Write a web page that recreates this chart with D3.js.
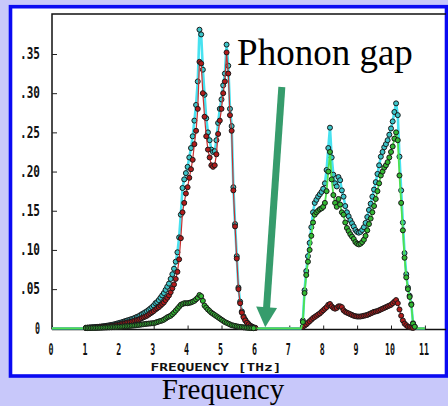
<!DOCTYPE html>
<html><head><meta charset="utf-8">
<script src="https://cdn.jsdelivr.net/npm/d3@7"></script>
<style>html,body{margin:0;padding:0;background:#c8c8fa;}svg{display:block}</style>
</head><body>
<svg id="c" width="448" height="406"></svg>
<script>
// Frequency grid step (THz) of the sampled DOS
const freqStep = 0.05;

// Total DOS (cyan)
const totalDOS = [
0,0,0,0,0,0,0,0,0,0,0,0,0,0,0,0,0,0,0,0,
.0008,.0009,.0011,.0012,.0014,.0015,.0017,.0018,.0021,.0023,.0026,.0029,.0032,.0035,.0039,.0043,.0047,.0052,.0058,.0064,
.007,.0076,.0083,.009,.0097,.0104,.0111,.0118,.0125,.0135,.0145,.0153,.0166,.018,.0192,.0205,.0218,.0235,.0252,.027,
.029,.032,.0335,.036,.039,.042,.045,.049,.053,.057,.063,.069,.076,.085,.097,.116,.145,.179,.190,.198,
.206,.218,.230,.245,.265,.285,.315,.381,.375,.330,.298,.268,.250,.240,.228,.225,.226,.240,.262,.280,
.292,.310,.325,.362,.335,.280,.258,.180,.133,.092,.052,.034,.0215,.0152,.011,.0078,.0055,.0033,.0022,.0011,
.0005,0,0,0,0,0,0,0,0,0,0,0,0,0,0,0,0,0,0,0,
0,0,0,0,0,0,0,0,.010,.0485,.073,.092,.109,.129,.148,.160,.164,.168,.171,.174,
.178,.185,.202,.230,.256,.218,.196,.185,.181,.193,.189,.176,.168,.156,.148,.143,.138,.134,.130,.1255,
.123,.122,.123,.1255,.129,.1345,.142,.151,.159,.168,.177,.1865,.197,.208,.219,.225,.231,.235,.240,.247,
.255,.264,.276,.287,.272,.219,.176,.135,.096,.069,.052,.0415,.031,.0065,.002,0,0,0,0,0,
0];

// Partial DOS, heavy atom (red)
const heavyDOS = [
0,0,0,0,0,0,0,0,0,0,0,0,0,0,0,0,0,0,0,0,
.0005,.0006,.0007,.0008,.0009,.001,.0011,.0012,.0014,.0015,.0017,.0019,.0021,.0023,.0026,.0029,.0032,.0036,.004,.0045,
.005,.0055,.006,.0065,.007,.0075,.008,.0085,.009,.0098,.0105,.011,.012,.013,.014,.015,.016,.0175,.019,.0205,
.022,.024,.0255,.027,.029,.031,.033,.036,.039,.042,.046,.051,.056,.063,.072,.088,.115,.148,.160,.172,
.180,.192,.203,.215,.235,.252,.280,.340,.338,.300,.270,.245,.228,.218,.208,.206,.208,.222,.248,.265,
.280,.300,.315,.352,.325,.272,.252,.176,.130,.089,.050,.032,.020,.014,.010,.007,.005,.003,.002,.001,
.0005,0,0,0,0,0,0,0,0,0,0,0,0,0,0,0,0,0,0,0,
0,0,0,0,0,0,0,0,.002,.0035,.005,.007,.009,.011,.013,.0145,.016,.0175,.019,.021,
.023,.025,.027,.030,.031,.028,.026,.025,.026,.028,.028,.027,.023,.021,.020,.019,.018,.017,.016,.0155,
.015,.015,.015,.0155,.016,.0165,.017,.018,.019,.020,.021,.0215,.022,.023,.024,.025,.026,.027,.028,.029,
.030,.032,.034,.036,.032,.024,.016,.010,.006,.004,.002,.0015,.001,.0005,0,0,0,0,0,0,
0];

// Partial DOS, light atom (green)
const lightDOS = [
0,0,0,0,0,0,0,0,0,0,0,0,0,0,0,0,0,0,0,0,
.0003,.0003,.0004,.0004,.0005,.0005,.0006,.0006,.0007,.0008,.0009,.001,.0011,.0012,.0013,.0014,.0015,.0016,.0018,.0019,
.002,.0021,.0023,.0025,.0027,.0029,.0031,.0033,.0035,.0037,.004,.0043,.0046,.0049,.0052,.0055,.0058,.006,.0062,.0064,
.0066,.0072,.0079,.0086,.0093,.010,.011,.0125,.014,.015,.016,.018,.020,.0225,.025,.0275,.030,.031,.032,.032,
.032,.0325,.033,.034,.035,.037,.039,.0425,.041,.035,.029,.0265,.024,.022,.020,.0185,.017,.0155,.014,.0125,
.011,.0095,.008,.007,.006,.005,.004,.0035,.003,.0025,.002,.0018,.0015,.0012,.001,.0008,.0005,.0003,.0002,.0001,
0,0,0,0,0,0,0,0,0,0,0,0,0,0,0,0,0,0,0,0,
0,0,0,0,0,0,0,0,.008,.045,.068,.085,.100,.118,.135,.145,.148,.150,.152,.153,
.155,.160,.175,.200,.225,.190,.170,.160,.155,.165,.158,.148,.145,.135,.128,.124,.120,.117,.114,.110,
.108,.107,.108,.110,.113,.118,.125,.133,.140,.148,.156,.165,.175,.185,.195,.200,.205,.208,.212,.218,
.225,.232,.242,.250,.240,.195,.160,.125,.090,.065,.050,.040,.030,.006,.002,0,0,0,0,0,
0];

const xTicks = [0,1,2,3,4,5,6,7,8,9,10,11];
const xTickLabels = ["0","1","2","3","4","5","6","7","8","9","10","11"];
const yTicks = [0,.05,.10,.15,.20,.25,.30,.35];
const yTickLabels = ["0",".05",".10",".15",".20",".25",".30",".35"];
const xAxisTitle = "FREQUENCY [THz]";
const annotation = "Phonon gap";
const caption = "Frequency";

const svg = d3.select("#c");
const x = d3.scaleLinear().domain([0, 11]).range([52, 424.9]);
const y = d3.scaleLinear().domain([0, 0.35]).range([328.3, 54]);

// frame
svg.append("rect").attr("x",10.5).attr("y",6.7).attr("width",436).attr("height",369.3)
  .attr("fill","#fff").attr("stroke","#0a0af2").attr("stroke-width",3.6);

// plot box lines
svg.append("path").attr("d","M52,329.5V14H446").attr("fill","none").attr("stroke","#111").attr("stroke-width",1.5);
svg.append("line").attr("x1",52).attr("x2",446).attr("y1",329.5).attr("y2",329.5).attr("stroke","#111").attr("stroke-width",1.5);

const monoFont = "'DejaVu Sans Mono', 'Liberation Mono', monospace";

const gy = svg.append("g").attr("transform","translate(52,0)")
  .call(d3.axisLeft(y).tickValues(yTicks).tickFormat((d,i)=>yTickLabels[i]).tickSize(-5).tickPadding(12));
gy.select(".domain").remove();
gy.selectAll(".tick line").attr("stroke","#222").attr("stroke-width",1);
gy.selectAll(".tick text").attr("fill","#111").style("font-family",monoFont).style("font-weight","bold").style("font-size","15px")
  .attr("textLength",(d,i)=>yTickLabels[i].length===1?5:20).attr("lengthAdjust","spacingAndGlyphs");

const gx = svg.append("g").attr("transform","translate(0,329.5)")
  .call(d3.axisBottom(x).tickValues(xTicks).tickFormat((d,i)=>xTickLabels[i]).tickSize(-4).tickPadding(15));
gx.select(".domain").remove();
gx.selectAll(".tick line").attr("stroke","#222").attr("stroke-width",1);
gx.selectAll(".tick text").attr("fill","#111").attr("dx",-1.5).style("font-family",monoFont).style("font-weight","bold").style("font-size","15px")
  .attr("textLength",(d,i)=>xTickLabels[i].length*5).attr("lengthAdjust","spacingAndGlyphs");

svg.append("text").attr("x",216).attr("y",371).attr("text-anchor","middle")
  .style("font-family",monoFont).style("font-weight","bold").style("font-size","10.5px").attr("fill","#111")
  .attr("textLength",131).attr("lengthAdjust","spacingAndGlyphs").text(xAxisTitle);

// series
const series = [
  {vals: totalDOS, line: "#48e2f0", lw: 2.6, fill: "#3cc4c8"},
  {vals: heavyDOS, line: "#c83030", lw: 1.2, fill: "#b01c1c"},
  {vals: lightDOS, line: "#4fe04f", lw: 1.8, fill: "#33b833"}
];
const line = d3.line().x((d,i)=>x(i*freqStep)).y(d=>y(d));
series.forEach(s => {
  const g = svg.append("g");
  g.append("path").attr("d", line(s.vals)).attr("fill","none").attr("stroke",s.line).attr("stroke-width",s.lw).attr("stroke-linejoin","round");
  g.selectAll("circle").data(s.vals.map((v,i)=>({v,f:i*freqStep})).filter(d=>d.v>0)).join("circle")
    .attr("cx",d=>x(d.f)).attr("cy",d=>y(d.v)).attr("r",2.5)
    .attr("fill",s.fill).attr("stroke","#1a1a1a").attr("stroke-width",1);
});

// annotation
svg.append("text").attr("x",x(5.46)).attr("y",y(0.336)).style("font-family","'Liberation Serif', 'Times New Roman', serif")
  .style("font-size","37px").attr("fill","#000").text(annotation);

const ax0 = x(6.78), ay0 = y(0.308), ax1 = x(6.29), ay1 = y(0) - 1;
const dx = ax1-ax0, dy = ay1-ay0, L = Math.hypot(dx,dy), ux = dx/L, uy = dy/L;
const headL = 20, headW = 10.5;
const bx = ax1 - ux*headL, by = ay1 - uy*headL;
const arrowCol = "#369c6c";
svg.append("line").attr("x1",ax0).attr("y1",ay0).attr("x2",bx+ux*2).attr("y2",by+uy*2).attr("stroke",arrowCol).attr("stroke-width",7);
svg.append("path").attr("d",`M${ax1},${ay1}L${bx - uy*headW},${by + ux*headW}L${bx + uy*headW},${by - ux*headW}Z`).attr("fill",arrowCol);

// caption below frame
svg.append("text").attr("x",223).attr("y",399).attr("text-anchor","middle")
  .style("font-family","'Liberation Serif', 'Times New Roman', serif").style("font-size","29px").attr("fill","#000").text(caption);
</script>
</body></html>
